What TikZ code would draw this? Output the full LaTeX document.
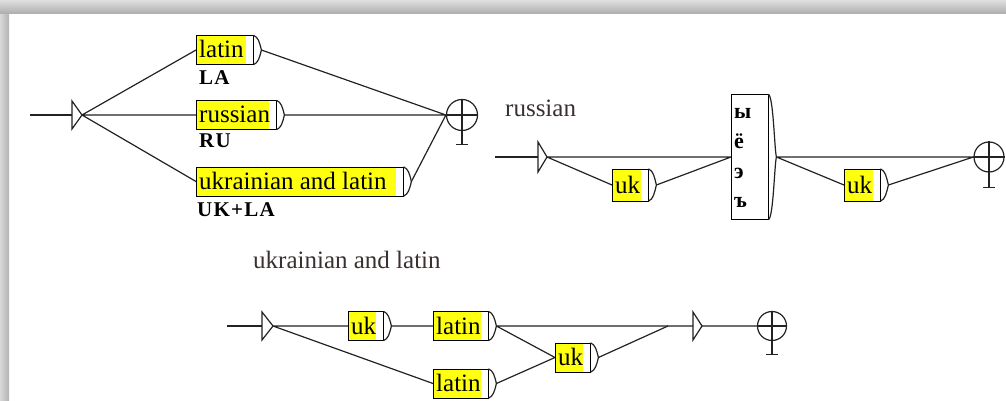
\documentclass[tikz,border=0pt]{standalone}
\usepackage{fontspec}
\setmainfont{Liberation Serif}
\newfontfamily\labelfont[LetterSpace=6]{Liberation Serif}
\usetikzlibrary{calc}
\definecolor{boxyellow}{HTML}{FFFF10}
\definecolor{linecol}{HTML}{222222}
\definecolor{titlecol}{HTML}{3A3030}

\begin{document}
\begin{tikzpicture}[x=1pt,y=-1pt]
    \tikzset{entry/.style = {draw=black,fill=boxyellow,inner sep=0pt,minimum height=29pt,anchor=west,text height=18pt,text depth=2pt,font=\fontsize{25}{27}\selectfont,
        path picture={\fill[white] ([xshift=-7pt]path picture bounding box.north east) rectangle (path picture bounding box.south east);}},
      edge/.style = {draw=linecol,line width=1.2pt},
      outlabel/.style = {anchor=base west,inner sep=0pt,font=\labelfont\bfseries\fontsize{21}{23}\selectfont},
      grtitle/.style = {anchor=base west,inner sep=0pt,text=titlecol,font=\fontsize{25}{27}\selectfont},
      cyrl/.style = {anchor=base west,inner sep=0pt,font=\bfseries\fontsize{22}{24}\selectfont},
      final/.style = {circle,draw=linecol,line width=1.2pt,minimum size=30pt,inner sep=0pt}}
    \def\ent#1#2{\makebox[#1pt][l]{\hspace{3pt}#2}\hspace{7pt}}
    \def\boxcap#1{\draw[edge] (#1.north east) .. controls +(5,2) and +(-2,-8) .. ([xshift=8pt]#1.east) .. controls +(-2,8) and +(5,-2) .. (#1.south east);}
    \useasboundingbox (0,0) rectangle (1006,401);
    % window shadow
    \shade[left color=gray!30,right color=gray!60] (0,0) rectangle (9,401);
    \shade[top color=gray!25,bottom color=gray!65] (0,0) rectangle (1006,14);

    % main graph
    \coordinate (in1) at (30,115);
    \coordinate (s1) at (72,115);
    \coordinate (s1t) at (82,115);
    \draw[edge] (in1) -- (s1);
    \draw[line width=2.5pt,linecol] (in1) -- ++(10,0);
    \draw[edge] (s1) ++(0,-14) -- (s1t) -- ++(-10,14) -- cycle;
    \node[entry] (la) at (196,50) {\ent{57}{latin}};
    \node[entry] (ru) at (196,115) {\ent{80}{russian}};
    \node[entry] (ukla) at (196,181.5) {\ent{207}{ukrainian and latin}};
    \boxcap{la} \boxcap{ru} \boxcap{ukla}
    \node[outlabel] (la-o) at ($(la.south west)+(3,20)$) {LA};
    \node[outlabel] (ru-o) at ($(ru.south west)+(3,18)$) {RU};
    \node[outlabel] (ukla-o) at ($(ukla.south west)+(1,20)$) {UK+LA};
    \node[final,minimum size=31pt] (f1) at (462,115) {};
    \draw[edge] (f1.west) -- (f1.east) (f1.north) -- ($(f1.south)+(0,13)$) coordinate (f1b);
    \draw[edge] ($(f1b)+(-6,0)$) -- ($(f1b)+(6,0)$);
    \draw[edge] (s1t) -- (la.west) (s1t) -- (ru.west) (s1t) -- (ukla.west);
    \draw[edge] ([xshift=8pt]la.east) -- (f1.west) ([xshift=8pt]ru.east) -- (f1.west) ([xshift=8pt]ukla.east) -- (f1.west);

    % russian
    \node[grtitle] (t2) at (505,117) {russian};
    \coordinate (in2) at (495,157);
    \coordinate (s2) at (538,157);
    \coordinate (s2t) at (547,157);
    \draw[edge] (in2) -- (s2);
    \draw[line width=2.5pt,linecol] (in2) -- ++(11,0);
    \draw[edge] (s2) ++(0,-15) -- (s2t) -- ++(-9,15) -- cycle;
    \node[entry,minimum height=32pt] (uk1) at (612,185) {\ent{36}{uk}};
    \node[draw=black,fill=white,inner sep=0pt,minimum width=37pt,minimum height=125pt,anchor=west] (cyr) at (731,157) {};
    \foreach \c [count=\i] in {ы,ё,э,ъ}
      \node[cyrl] (cy\i) at (734,{89+29.7*\i}) {\c};
    \node[entry,minimum height=32pt] (uk2) at (844,185) {\ent{36}{uk}};
    \boxcap{uk1} \boxcap{cyr} \boxcap{uk2}
    \node[final] (f2) at (989,157) {};
    \draw[edge] (f2.west) -- (f2.east) (f2.north) -- ($(f2.south)+(0,15)$) coordinate (f2b);
    \draw[edge] ($(f2b)+(-6,0)$) -- ($(f2b)+(6,0)$);
    \draw[edge] (s2t) -- (cyr.west) (s2t) -- (uk1.west) ([xshift=8pt]uk1.east) -- (cyr.west);
    \draw[edge] ([xshift=8pt]cyr.east) -- (f2.west) ([xshift=8pt]cyr.east) -- (uk2.west) ([xshift=8pt]uk2.east) -- (f2.west);

    % ukrainian and latin
    \node[grtitle] (t3) at (253,268) {ukrainian and latin};
    \coordinate (in3) at (227,326);
    \coordinate (s3) at (262,326);
    \coordinate (s3t) at (273,326);
    \draw[edge] (in3) -- (s3);
    \draw[line width=2.5pt,linecol] (in3) -- ++(10,0);
    \draw[edge] (s3) ++(0,-14) -- (s3t) -- ++(-11,14) -- cycle;
    \node[entry] (uk3) at (348,326) {\ent{35}{uk}};
    \node[entry] (lt) at (433,326) {\ent{55}{latin}};
    \node[entry] (lb) at (433,383.5) {\ent{55}{latin}};
    \node[entry] (um) at (555,357.5) {\ent{35}{uk}};
    \boxcap{uk3} \boxcap{lt} \boxcap{lb} \boxcap{um}
    \coordinate (join) at (668,326);
    \coordinate (s4) at (693,326);
    \coordinate (s4t) at (702,326);
    \draw[edge] (s4) ++(0,-14) -- (s4t) -- ++(-9,14) -- cycle;
    \node[final,minimum size=29pt] (f3) at (772,326) {};
    \draw[edge] (f3.west) -- (f3.east) (f3.north) -- ($(f3.south)+(0,13)$) coordinate (f3b);
    \draw[edge] ($(f3b)+(-6,0)$) -- ($(f3b)+(6,0)$);
    \draw[edge] (s3t) -- (uk3.west) (s3t) -- (lb.west) ([xshift=8pt]uk3.east) -- (lt.west);
    \draw[edge] ([xshift=8pt]lt.east) -- (s4) ([xshift=8pt]lt.east) -- (um.west) ([xshift=8pt]lb.east) -- (um.west);
    \draw[edge] ([xshift=8pt]um.east) -- (join) (s4t) -- (f3.west);
\end{tikzpicture}
\end{document}
